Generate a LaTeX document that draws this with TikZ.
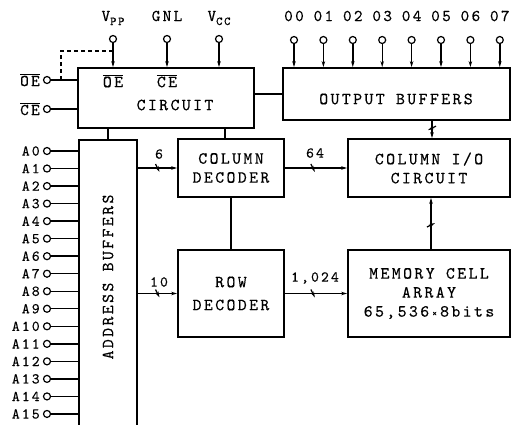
\documentclass[tikz,border=0pt]{standalone}
\usepackage{fontspec}
\setmainfont{lmmono10-regular.otf}[LetterSpace=14,FakeBold=0.4]
\usetikzlibrary{arrows.meta,decorations.markings,calc}
\begin{document}
\begin{tikzpicture}[x=1pt,y=-1pt,
  box/.style={draw,line width=1.8pt,inner sep=0pt},
  txt/.style={inner sep=0pt,align=center,font=\fontsize{17}{19}\selectfont},
  pin/.style={draw,circle,fill=white,minimum size=7pt,inner sep=0pt,line width=1.2pt},
  wire/.style={line width=1.4pt},
  arr/.style={wire,-{Stealth[length=6pt,width=3.5pt]}},
  tick/.style={postaction={decorate,decoration={markings,mark=at position #1 with {\draw[line width=1.2pt](-2pt,4pt)--(2pt,-4pt);}}}},
  lbl/.style={inner sep=0pt,font=\fontsize{15}{15}\selectfont},
  olbl/.style={inner sep=0pt,font=\fontsize{16.5}{17}\selectfont},
  ]
\useasboundingbox (0,0) rectangle (512,424);

% boxes
\node[box,minimum width=176pt,minimum height=60pt] (circuit) at (166,98) {};
\node[box,minimum width=227pt,minimum height=52pt] (outbuf) at (396.5,94) {};
\node[box,minimum width=58pt,minimum height=300pt,anchor=north] (addr) at (108,139) {};
\node[box,minimum width=106pt,minimum height=58pt] (coldec) at (231,168) {};
\node[box,minimum width=106pt,minimum height=87pt] (rowdec) at (231,293.5) {};
\node[box,minimum width=162pt,minimum height=58pt] (colio) at (429,168) {};
\node[box,minimum width=162pt,minimum height=87pt] (mem) at (429,293.5) {};

% box texts
\node[txt] (tcirc) at (175,105) {CIRCUIT};
\node[txt] (toe) at (113,81) {$\overline{\mbox{OE}}$};
\node[txt] (tce) at (167,81) {$\overline{\mbox{CE}}$};
\node[txt] (tout) at (396,99) {OUTPUT BUFFERS};
\node[txt,rotate=90] (taddr) at (108,277) {ADDRESS BUFFERS};
\node[txt] (tcol) at (231,168) {COLUMN\\DECODER};
\node[txt] (trow) at (231,293.5) {ROW\\[4pt]DECODER};
\node[txt] (tcio) at (429,168) {COLUMN I/O\\CIRCUIT};
\node[txt] (tmem) at (429,293.5) {MEMORY CELL\\ARRAY\\65,536\,{\fontsize{10}{10}\selectfont ×}\,8bits};

% top power pins
\node[pin] (vpp) at (113,39) {};
\node[pin] (gnl) at (167,39) {};
\node[pin] (vcc) at (219,39) {};
\node[olbl] (lvpp) at (113,18) {V\raisebox{-4pt}{\fontsize{12}{12}\selectfont PP}};
\node[olbl] (lgnl) at (167,16) {GNL};
\node[olbl] (lvcc) at (219,18) {V\raisebox{-4pt}{\fontsize{12}{12}\selectfont CC}};
\draw[arr] (vpp) -- (vpp |- circuit.north);
\draw[arr] (gnl) -- (gnl |- circuit.north);
\draw[arr] (vcc) -- (vcc |- circuit.north);

% OE / CE pins
\node[pin] (oe) at (47,80) {};
\node[pin] (ce) at (47,109) {};
\node[olbl,anchor=east] (loe) at (40,80) {$\overline{\mbox{OE}}$};
\node[olbl,anchor=east] (lce) at (40,109) {$\overline{\mbox{CE}}$};
\draw[wire] (oe) -- (oe -| circuit.west);
\draw[wire] (ce) -- (ce -| circuit.west);
\coordinate (d0) at (61,80);
\coordinate (d1) at (61,51);
\draw[wire,dashed,dash pattern=on 4pt off 3pt] (d0) -- (d1) -- (d1 -| vpp);

% output pins
\foreach \i in {0,...,7} {
  \node[pin] (o\i) at ({294+29.4*\i},40) {};
  \node[olbl] (lo\i) at ({294+29.4*\i},16) {0\i};
  \draw[arr] (o\i) -- (o\i |- outbuf.north);
}

% address pins
\foreach \i in {0,...,15} {
  \node[pin] (a\i) at (47,{151+17.53*\i}) {};
  \node[lbl,anchor=east] (la\i) at ([xshift=-3pt]a\i.west) {A\i};
  \draw[wire] (a\i) -- (a\i -| addr.west);
}

% internal connections
\draw[wire] (circuit.east |- outbuf.west) -- (outbuf.west);
\draw[wire] (circuit.south -| addr.north) -- (addr.north);
\draw[wire] ([xshift=-6pt]coldec.north |- circuit.south) -- ([xshift=-6pt]coldec.north);
\draw[wire] (coldec.south) -- (rowdec.north);

\draw[arr,tick=0.5] (addr.east |- coldec.west) -- (coldec.west);
\node[lbl] (l6) at (159,154) {6};
\draw[arr,tick=0.5] (addr.east |- rowdec.west) -- (rowdec.west);
\node[lbl] (l10) at (159,282) {10};

\draw[arr,tick=0.45] (coldec.east) -- (colio.west);
\node[lbl] (l64) at (315,153) {64};
\draw[arr,tick=0.45] (rowdec.east) -- (mem.west);
\node[lbl] (l1024) at (315,278) {1,024};

\draw[arr,tick=0.47] ([xshift=2pt]mem.north) -- ([xshift=2pt]colio.south);
\draw[arr,tick=0.42] ([xshift=3pt]colio.north |- outbuf.south) -- ([xshift=3pt]colio.north);
\end{tikzpicture}
\end{document}
